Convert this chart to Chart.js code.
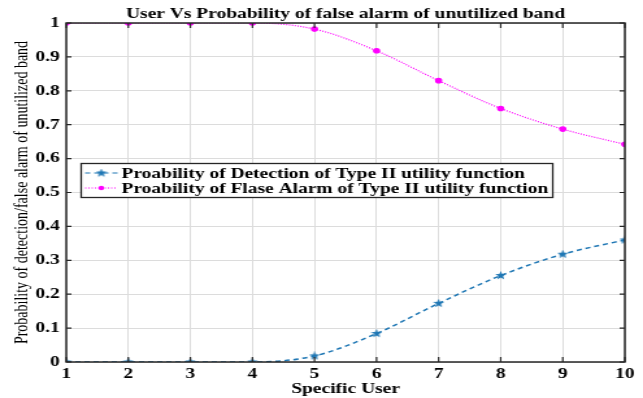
<!DOCTYPE html>
<html><head><meta charset="utf-8">
<script src="https://cdn.jsdelivr.net/npm/chart.js@4/dist/chart.umd.min.js"></script>
<style>html,body{margin:0;padding:0;background:#fff;overflow:hidden}
#wrap{width:495px;height:398px;transform:scaleX(1.29899);transform-origin:0 0}</style>
</head><body><div id="wrap"><canvas id="c" width="495" height="398"></canvas></div>
<script>
const users = [1,2,3,4,5,6,7,8,9,10];
const probDetection = [0,0,0,0,0.018,0.084,0.173,0.255,0.318,0.360];
const probFalseAlarm = [1,1,1,1,0.982,0.918,0.830,0.748,0.687,0.642];
const yTicks = [0,0.1,0.2,0.3,0.4,0.5,0.6,0.7,0.8,0.9,1];
const titleText = 'User Vs Probability of false alarm of unutilized band';
const labelPD = 'Proability of Detection of Type II utility function';
const labelPFA = 'Proability of Flase Alarm of Type II utility function';

const blue = '#1f77b4';
const magenta = '#ff00ff';
const serif = '"Liberation Serif","Times New Roman",serif';

function starImg(size, color){
  const c = document.createElement('canvas'); c.width=size; c.height=size;
  const g = c.getContext('2d'); const cx=size/2, cy=size/2, R=size/2, r=R*0.42;
  g.beginPath();
  for(let i=0;i<10;i++){const a=-Math.PI/2+i*Math.PI/5; const rr=i%2?r:R; g.lineTo(cx+rr*Math.cos(a), cy+rr*Math.sin(a));}
  g.closePath(); g.fillStyle=color; g.fill(); return c;
}
const star = starImg(9, blue);

const frame = {
  id:'frame',
  afterDraw(chart){
    const {ctx, chartArea:a, scales:{x,y}} = chart;
    ctx.save();
    // title centred over the plot area
    ctx.font='bold 15px '+serif; ctx.fillStyle='#000'; ctx.textAlign='center'; ctx.textBaseline='alphabetic';
    ctx.fillText(titleText, (a.left+a.right)/2, 18);
    ctx.textAlign='left';
    ctx.strokeStyle='#262626'; ctx.lineWidth=1.5;
    ctx.strokeRect(a.left, a.top, a.right-a.left, a.bottom-a.top);
    ctx.lineWidth=1.2;
    users.forEach(u=>{const px=x.getPixelForValue(u);
      ctx.beginPath(); ctx.moveTo(px,a.bottom); ctx.lineTo(px,a.bottom-5); ctx.moveTo(px,a.top); ctx.lineTo(px,a.top+5); ctx.stroke();});
    yTicks.forEach(t=>{const py=y.getPixelForValue(t);
      ctx.beginPath(); ctx.moveTo(a.left,py); ctx.lineTo(a.left+4,py); ctx.moveTo(a.right,py); ctx.lineTo(a.right-4,py); ctx.stroke();});
    // legend
    const lx=62.5, ly=163, lw=363, lh=34;
    ctx.fillStyle='#fff'; ctx.fillRect(lx,ly,lw,lh);
    ctx.strokeStyle='#262626'; ctx.lineWidth=1.3; ctx.strokeRect(lx,ly+0.5,lw,lh);
    ctx.font='bold 15px '+serif; ctx.textBaseline='middle'; ctx.fillStyle='#000';
    const rows=[{y:ly+10,lab:labelPD,col:blue,dash:[4,3]},{y:ly+25,lab:labelPFA,col:magenta,dash:[1,1.5]}];
    rows.forEach((r,i)=>{
      ctx.strokeStyle=r.col; ctx.lineWidth=1.2; ctx.setLineDash(r.dash);
      ctx.beginPath(); ctx.moveTo(lx+3,r.y); ctx.lineTo(lx+28,r.y); ctx.stroke(); ctx.setLineDash([]);
      if(i===0){ctx.drawImage(star,lx+15.5-4.5,r.y-4.5);} else {ctx.fillStyle=magenta; ctx.beginPath(); ctx.arc(lx+15.5,r.y,2.2,0,Math.PI*2); ctx.fill();}
      ctx.fillStyle='#000'; ctx.fillText(r.lab, lx+31, r.y+1);
    });
    ctx.restore();
  }
};

new Chart(document.getElementById('c'), {
  type:'line',
  data:{ datasets:[
    {label:labelPD, data:users.map((u,i)=>({x:u,y:probDetection[i]})), borderColor:blue, backgroundColor:blue,
      borderWidth:1.5, borderDash:[4,3], pointStyle:star, pointRadius:5, tension:0.35, cubicInterpolationMode:'monotone'},
    {label:labelPFA, data:users.map((u,i)=>({x:u,y:probFalseAlarm[i]})), borderColor:magenta, backgroundColor:magenta,
      borderWidth:1.2, borderDash:[1,1.2], pointStyle:'circle', pointRadius:2.2, tension:0.35, cubicInterpolationMode:'monotone'}
  ]},
  options:{
    responsive:false, animation:false, devicePixelRatio:1,
    layout:{padding:{left:0,right:14,top:23,bottom:0}},
    plugins:{ legend:{display:false}, tooltip:{enabled:false}, title:{display:false} },
    scales:{
      x:{type:'linear', min:1, max:10,
        afterBuildTicks(s){s.ticks=users.map(v=>({value:v}));},
        afterFit(s){s.height=36;},
        grid:{color:'#dcdcdc', drawTicks:false, lineWidth:1},
        border:{display:false},
        ticks:{color:'#000', font:{family:serif,size:15,weight:'bold'}, padding:3, maxRotation:0},
        title:{display:true, text:'Specific User', color:'#000', font:{family:serif,size:15,weight:'bold'}, padding:{top:0,bottom:0}}
      },
      y:{type:'linear', min:0, max:1,
        afterBuildTicks(s){s.ticks=yTicks.map(v=>({value:v}));},
        afterFit(s){s.width=51;},
        grid:{color:'#dcdcdc', drawTicks:false, lineWidth:1},
        border:{display:false},
        ticks:{color:'#000', font:{family:serif,size:15,weight:'bold'}, padding:5, callback:v=>String(+v.toFixed(1))},
        title:{display:true, text:'Probability of detection/false alarm of unutilized band', color:'#000', font:{family:serif,size:14}, padding:{top:9,bottom:0}}
      }
    }
  },
  plugins:[frame]
});
</script></body></html>
